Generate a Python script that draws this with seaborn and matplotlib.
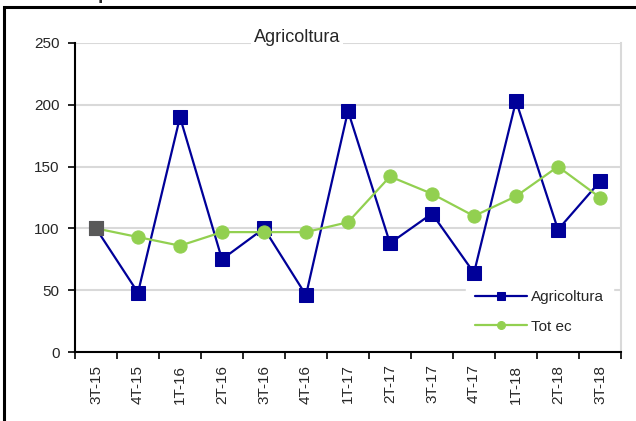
import numpy as np
import pandas as pd
import matplotlib
matplotlib.use('Agg')
import matplotlib.pyplot as plt
import matplotlib.patches as mpatches
import seaborn as sns

# Data
quarters = ['3T-15', '4T-15', '1T-16', '2T-16', '3T-16', '4T-16', '1T-17',
            '2T-17', '3T-17', '4T-17', '1T-18', '2T-18', '3T-18']
agricoltura = [100, 48, 190, 75, 100, 46, 195, 88, 112, 64, 203, 99, 138]
tot_ec = [100, 93, 86, 97, 97, 97, 105, 142, 128, 110, 126, 150, 125]
y_ticks = [0, 50, 100, 150, 200, 250]

blue = '#000099'
green = '#92D050'
grey_mark = '#595959'
grid_col = '#D9D9D9'

sns.set_style('white')
plt.rcParams['font.family'] = ['Liberation Sans', 'DejaVu Sans']

df = pd.DataFrame({'pos': np.arange(len(quarters)),
                   'Agricoltura': agricoltura,
                   'Tot ec': tot_ec})

fig = plt.figure(figsize=(6.36, 4.21), dpi=100)
ax = fig.add_axes([75 / 636, 1 - 352 / 421, 546 / 636, 309 / 421])

sns.lineplot(data=df, x='pos', y='Agricoltura', ax=ax, color=blue, lw=1.6,
             marker='s', markersize=9.5, markeredgecolor=blue, label='Agricoltura', zorder=3)
sns.lineplot(data=df, x='pos', y='Tot ec', ax=ax, color=green, lw=1.6,
             marker='o', markersize=9.5, markeredgecolor=green, label='Tot ec', zorder=4)
# base period highlighted in grey
sns.scatterplot(x=df['pos'][:1], y=df['Agricoltura'][:1], ax=ax, marker='s', s=95,
                color=grey_mark, edgecolor=grey_mark, zorder=5, legend=False)

ax.set_xlim(-0.5, len(quarters) - 0.5)
ax.set_ylim(0, 250)
ax.set_yticks(y_ticks)
ax.yaxis.grid(True, color=grid_col, lw=1.5)
ax.set_axisbelow(True)

ax.set_xticks(np.arange(len(quarters) + 1) - 0.5)
ax.set_xticklabels([])
ax.set_xticks(np.arange(len(quarters)), minor=True)
ax.set_xticklabels(quarters, minor=True, rotation=90, fontsize=11)
ax.tick_params(axis='x', which='major', direction='out', length=5, width=1.2, color='black', bottom=True)
ax.tick_params(axis='x', which='minor', length=0, pad=9)
ax.tick_params(axis='y', direction='out', length=5, width=1.2, color='black', left=True, labelsize=11, pad=6)
ax.set_xlabel('')
ax.set_ylabel('')

for side in ['left', 'bottom']:
    ax.spines[side].set_color('black')
    ax.spines[side].set_linewidth(1.5)
ax.spines['right'].set_color(grid_col)
ax.spines['right'].set_linewidth(1.5)
ax.spines['top'].set_visible(False)

leg = ax.legend(loc='lower right', bbox_to_anchor=(1.0, 0.005), frameon=True, fancybox=False,
                facecolor='white', edgecolor='white', framealpha=1, fontsize=11,
                markerscale=0.6, handlelength=3.4, handletextpad=0.3, labelspacing=1.0,
                borderpad=0.6, borderaxespad=0.5)
leg.set_zorder(2)

fig.text(297 / 636, 1 - 38 / 421, 'Agricoltura', ha='center', va='center', fontsize=13,
         bbox=dict(facecolor='white', edgecolor='none', pad=2))

# outer frame and clipped heading from the source page
fig.patches.append(mpatches.Rectangle((4 / 636, -0.05), 1.0, 1 - 7 / 421 + 0.05,
                                      transform=fig.transFigure, fill=False,
                                      edgecolor='black', lw=2.2))
fig.text(104 / 636, 1 + 1 / 421, 'p', ha='center', va='baseline', fontsize=14,
         fontweight='bold')

fig.savefig('out.png', dpi=100)
